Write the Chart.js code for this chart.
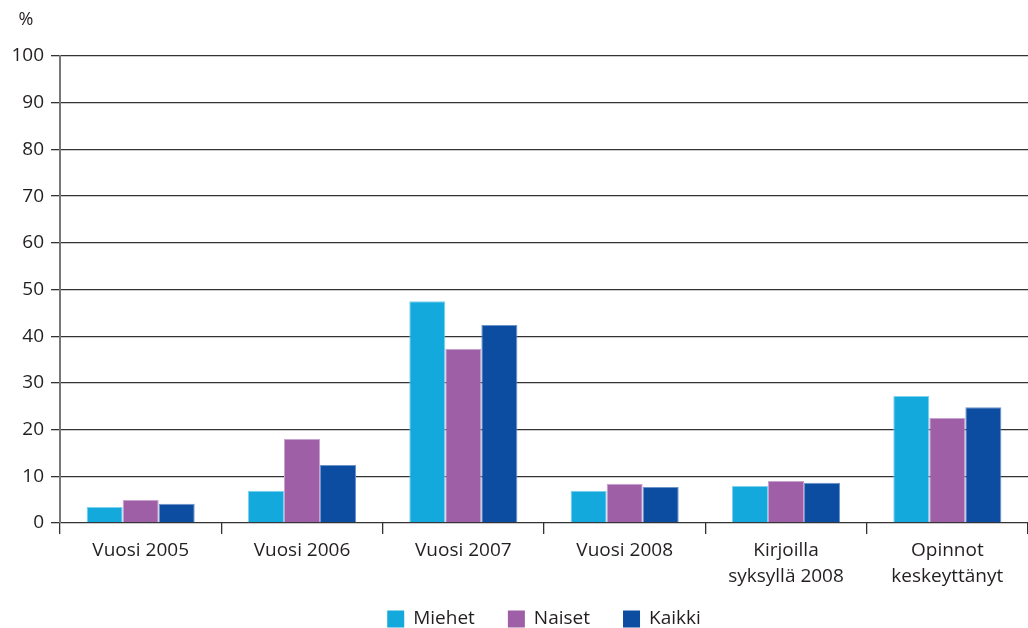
<!DOCTYPE html>
<html>
<head>
  <title>Vuosi ja opinnot</title>
  <script src="https://cdn.jsdelivr.net/npm/chart.js"></script>
  <style>
    body { margin: 0; background: #fff; }
    #wrap { width: 1028px; height: 628px; position: relative; }
  </style>
</head>
<body>
  <div id="wrap"><canvas id="chart" width="1028" height="628"></canvas></div>
  <script>
  const categories = ['Vuosi 2005', 'Vuosi 2006', 'Vuosi 2007', 'Vuosi 2008', ['Kirjoilla', 'syksyllä 2008'], ['Opinnot', 'keskeyttänyt']];
  const miehet = [3.4, 6.9, 47.5, 6.9, 7.9, 27.2];
  const naiset = [4.9, 18.0, 37.3, 8.4, 9.0, 22.5];
  const kaikki = [4.1, 12.4, 42.4, 7.7, 8.6, 24.8];
  const yTicks = [0, 10, 20, 30, 40, 50, 60, 70, 80, 90, 100];

  const textColor = '#231f20';
  const fontFamily = "'Open Sans', sans-serif";
  const fontSize = 19;

  // "%" above the y axis
  const unitLabel = {
    id: 'unitLabel',
    afterDraw(chart) {
      const ctx = chart.ctx;
      ctx.save();
      ctx.fillStyle = textColor;
      ctx.font = '18px ' + fontFamily;
      ctx.textAlign = 'center';
      ctx.textBaseline = 'middle';
      ctx.fillText('%', chart.chartArea.left - 34, chart.chartArea.top - 36);
      ctx.restore();
    }
  };

  // legend row at the bottom, centred under the plot area
  const bottomLegend = {
    id: 'bottomLegend',
    afterDraw(chart) {
      const ctx = chart.ctx;
      const box = 17, gapText = 9, gapItem = 33;
      ctx.save();
      ctx.font = fontSize + 'px ' + fontFamily;
      const items = chart.data.datasets.map(ds => ({ text: ds.label, color: ds.backgroundColor, w: ctx.measureText(ds.label).width }));
      const total = items.reduce((s, it) => s + box + gapText + it.w, 0) + gapItem * (items.length - 1);
      let x = (chart.chartArea.left + chart.chartArea.right) / 2 - total / 2;
      const yc = chart.height - 9;
      ctx.textBaseline = 'middle';
      ctx.textAlign = 'left';
      items.forEach(it => {
        ctx.fillStyle = it.color;
        ctx.fillRect(x, yc - box / 2, box, box);
        ctx.fillStyle = textColor;
        ctx.fillText(it.text, x + box + gapText, yc);
        x += box + gapText + it.w + gapItem;
      });
      ctx.restore();
    }
  };

  const ctx = document.getElementById('chart').getContext('2d');
  const chart = new Chart(ctx, {
    type: 'bar',
    data: {
      labels: categories,
      datasets: [
        { label: 'Miehet', data: miehet, backgroundColor: '#13a9dc', borderColor: '#7fd0ee', borderWidth: 1 },
        { label: 'Naiset', data: naiset, backgroundColor: '#9e5fa6', borderColor: '#c9a3cf', borderWidth: 1 },
        { label: 'Kaikki', data: kaikki, backgroundColor: '#0c4da2', borderColor: '#6d93c9', borderWidth: 1 }
      ]
    },
    options: {
      responsive: false,
      animation: false,
      layout: { padding: { top: 56, right: 0, left: 0, bottom: 0 } },
      datasets: { bar: { categoryPercentage: 0.67, barPercentage: 1.0 } },
      plugins: {
        tooltip: { enabled: false },
        legend: { display: false }
      },
      scales: {
        x: {
          offset: true,
          afterFit(scale) { scale.height = 105; },
          grid: { offset: true, drawOnChartArea: false, drawTicks: true, tickLength: 11, color: '#333', lineWidth: 1.3 },
          border: { display: false },
          ticks: { color: textColor, font: { family: fontFamily, size: fontSize, lineHeight: 1.37 }, padding: 4, maxRotation: 0, autoSkip: false }
        },
        y: {
          min: 0, max: 100,
          afterFit(scale) { scale.width = 60; },
          afterBuildTicks(scale) { scale.ticks = yTicks.map(v => ({ value: v })); },
          grid: { color: '#333', lineWidth: 1.3, tickLength: 9 },
          border: { display: true, color: '#777', width: 2 },
          ticks: { color: textColor, font: { family: fontFamily, size: fontSize }, padding: 7 }
        }
      }
    },
    plugins: [unitLabel, bottomLegend]
  });
  </script>
</body>
</html>
